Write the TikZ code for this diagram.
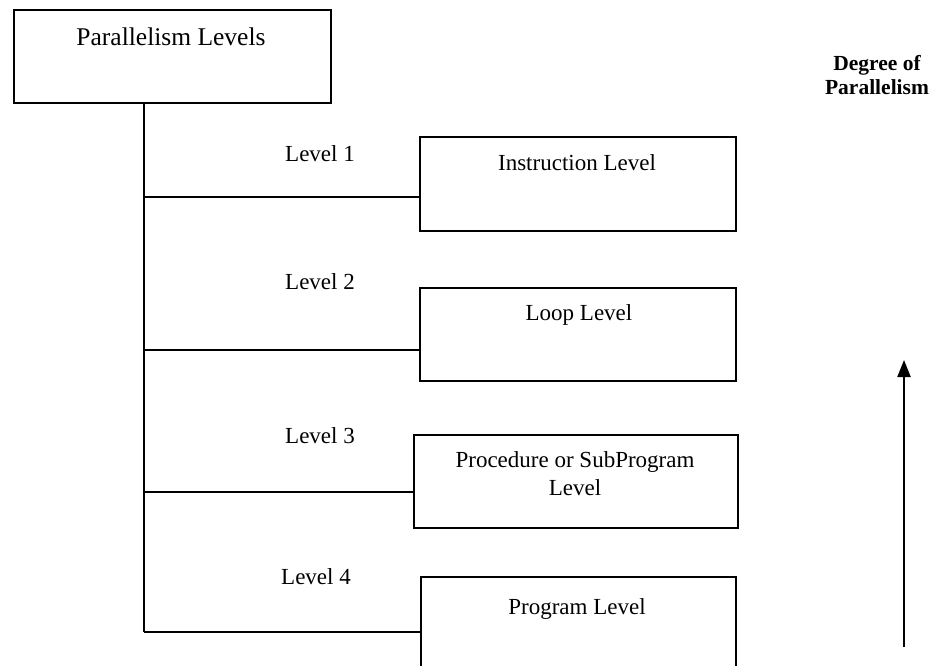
\documentclass[tikz,border=0pt]{standalone}
\usepackage{fontspec}
\setmainfont{Liberation Serif}
\usetikzlibrary{arrows.meta}
\begin{document}
\begin{tikzpicture}[x=1pt,y=-1pt,
  box/.style={draw=black,line width=1.6pt,rectangle,inner sep=0pt,anchor=north west},
  lbl/.style={font=\fontsize{23}{27}\selectfont,inner sep=0pt,anchor=base},
  conn/.style={line width=1.4pt,draw=black}]
  \useasboundingbox (0,0) rectangle (936,665);

  % root box
  \node[box,minimum width=317pt,minimum height=93pt] (root) at (13,9) {};
  \node[lbl,font=\fontsize{25.5}{29}\selectfont] (rootTxt) at (171,45) {Parallelism Levels};

  % level boxes
  \node[box,minimum width=316pt,minimum height=94pt] (inst) at (419,136) {};
  \node[lbl] (instTxt) at (577,170) {Instruction Level};

  \node[box,minimum width=316pt,minimum height=93pt] (loop) at (419,287) {};
  \node[lbl] (loopTxt) at (579,320) {Loop Level};

  \node[box,minimum width=324pt,minimum height=93pt] (proc) at (413,434) {};
  \node[lbl] (procTxt1) at (575,467) {Procedure or SubProgram};
  \node[lbl] (procTxt2) at (575,495) {Level};

  \node[box,minimum width=315pt,minimum height=100pt] (prog) at (420,576) {};
  \node[lbl] (progTxt) at (577,614) {Program Level};

  % level labels
  \node[lbl] (l1) at (320,161) {Level 1};
  \node[lbl] (l2) at (320,289) {Level 2};
  \node[lbl] (l3) at (320,443) {Level 3};
  \node[lbl] (l4) at (316,584) {Level 4};

  % trunk and branches
  \coordinate (trunkTop) at (144,102);
  \coordinate (j1) at (144,197);
  \coordinate (j2) at (144,350);
  \coordinate (j3) at (144,492);
  \coordinate (j4) at (144,632);
  \draw[conn] (root.south -| trunkTop) -- (j4);
  \draw[conn] (j1) -- (j1 -| inst.west);
  \draw[conn] (j2) -- (j2 -| loop.west);
  \draw[conn] (j3) -- (j3 -| proc.west);
  \draw[conn] (j4) -- (j4 -| prog.west);

  % degree-of-parallelism arrow
  \node[lbl,font=\bfseries\fontsize{21.5}{25}\selectfont] (deg1) at (877,70) {Degree of};
  \node[lbl,font=\bfseries\fontsize{21.5}{25}\selectfont] (deg2) at (877,94) {Parallelism};
  \coordinate (arrBot) at (904,647);
  \coordinate (arrTop) at (904,360);
  \draw[line width=2.2pt,-{Triangle[length=17pt,width=13pt]}] (arrBot) -- (arrTop);
\end{tikzpicture}
\end{document}
